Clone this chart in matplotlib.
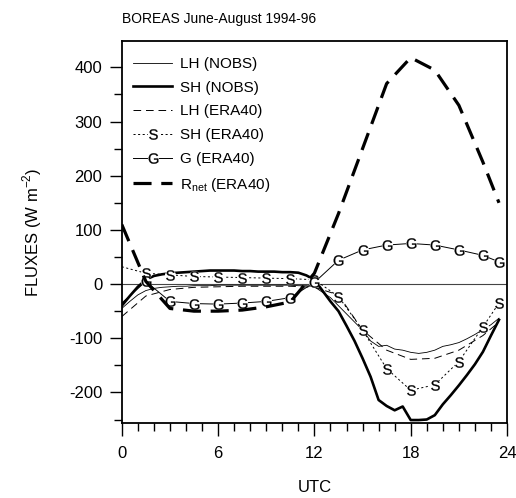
import matplotlib
matplotlib.use('Agg')
import matplotlib.pyplot as plt
from matplotlib.legend_handler import HandlerTuple
import numpy as np

plt.rcParams['font.family'] = ['Liberation Sans', 'DejaVu Sans']
plt.rcParams['lines.scale_dashes'] = False
plt.rcParams['axes.unicode_minus'] = False

# station observations (half-hourly, UTC)
nobs_hours = np.arange(0, 24, 0.5)
lh_nobs = [-45, -32, -20, -12, -8, -6, -5, -4, -4, -3, -3, -3, -2, -2, -2, -2,
           -2, -2, -2, -2, -2, -2, -3, -3, -5, -15, -25, -40, -55, -70, -85, -105,
           -115, -113, -120, -122, -126, -128, -126, -122, -115, -112, -108, -101,
           -93, -84, -75, -63]
sh_nobs = [-40, -22, -5, 8, 15, 18, 20, 21, 22, 23, 24, 25, 25, 25, 25, 24,
           24, 23, 23, 23, 22, 22, 21, 16, 8, -12, -32, -50, -77, -105, -137, -171,
           -214, -225, -233, -226, -251, -251, -250, -242, -222, -205, -187, -168,
           -148, -125, -95, -66]

# ERA40 model fluxes
era_hours = [0, 1.5, 3, 4.5, 6, 7.5, 9, 10.5, 12, 13.5, 15, 16.5, 18, 19.5, 21, 22.5, 23.5]
lh_era = [-60, -22, -10, -6, -5, -4, -4, -4, -6, -20, -85, -122, -139, -137, -122, -95, -70]
sh_era = [32, 20, 17, 14, 13, 12, 11, 10, 8, -23, -85, -156, -196, -186, -143, -79, -35]
g_era = [-35, 5, -32, -36, -37, -35, -32, -25, 3, 44, 63, 72, 75, 72, 63, 53, 41]
rnet_era = [110, 5, -45, -50, -50, -48, -42, -33, 20, 130, 250, 370, 418, 395, 330, 225, 150]

fig = plt.figure(figsize=(5.16, 4.98), dpi=100)
ax = fig.add_axes([0.236, 0.150, 0.7466, 0.768])

ax.axhline(0, color='#444444', lw=0.8, zorder=1)

l1, = ax.plot(nobs_hours, lh_nobs, color='black', lw=0.6)
l2, = ax.plot(nobs_hours, sh_nobs, color='black', lw=1.9)
l3, = ax.plot(era_hours, lh_era, color='black', lw=0.7, linestyle=(0, (5.5, 3.5)))

l4, = ax.plot(era_hours, sh_era, color='black', lw=0.7, linestyle=(0, (1.5, 1.8)))
b4, = ax.plot(era_hours[1:], sh_era[1:], linestyle='none', marker='o', ms=8,
              mfc='white', mec='none')
m4, = ax.plot(era_hours[1:], sh_era[1:], linestyle='none', marker='$\\mathregular{S}$',
              ms=7.5, color='black', mew=0.2)

l5, = ax.plot(era_hours, g_era, color='black', lw=0.7)
b5, = ax.plot(era_hours[1:], g_era[1:], linestyle='none', marker='o', ms=8,
              mfc='white', mec='none')
m5, = ax.plot(era_hours[1:], g_era[1:], linestyle='none', marker='$\\mathregular{G}$',
              ms=7.5, color='black', mew=0.2)

l6, = ax.plot(era_hours, rnet_era, color='black', lw=2.3, linestyle=(0, (13, 7)))

ax.set_xlim(0, 24)
ax.set_ylim(-257, 449)
ax.set_xticks([0, 6, 12, 18, 24])
ax.set_xticks(np.arange(0, 25, 1), minor=True)
ax.set_yticks([-200, -100, 0, 100, 200, 300, 400])
ax.set_yticks(np.arange(-250, 450, 50), minor=True)
ax.tick_params(which='major', length=9, width=1, labelsize=12, direction='out', pad=5)
ax.tick_params(which='minor', length=5.5, width=1, direction='out')
ax.tick_params(axis='x', pad=7)
for s in ax.spines.values():
    s.set_linewidth(1.3)

ax.set_xlabel('UTC', fontsize=12, labelpad=14)
ax.set_ylabel('FLUXES (W m$^{\\mathregular{-2}}$)', fontsize=12, labelpad=18)
ax.set_title('BOREAS June-August 1994-96', loc='left', fontsize=10, pad=13)

handles = [l1, l2, l3, (l4, b4, m4), (l5, b5, m5), l6]
labels = ['LH (NOBS)', 'SH (NOBS)', 'LH (ERA40)', 'SH (ERA40)', 'G (ERA40)',
          'R$_{\\mathregular{net}}$ (ERA40)']
ax.legend(handles, labels, loc='upper left', bbox_to_anchor=(0, 0.988),
          frameon=False, fontsize=11,
          handlelength=2.55, handletextpad=0.5, labelspacing=0.64,
          borderaxespad=0.35, numpoints=1,
          handler_map={tuple: HandlerTuple(ndivide=1)})

fig.savefig('out.png', dpi=100)
